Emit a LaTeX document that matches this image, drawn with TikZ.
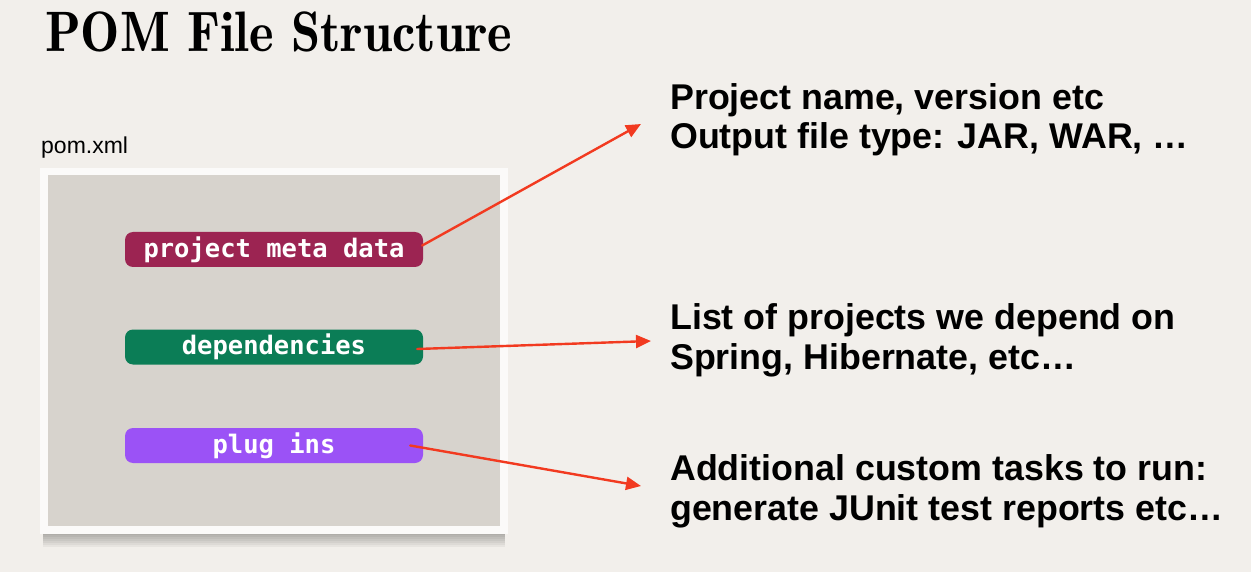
\documentclass[tikz,border=0pt]{standalone}
\usepackage{fontspec}
\newfontfamily\labelfont{Liberation Sans}
\newfontfamily\codefont{DejaVu Sans Mono}
\usetikzlibrary{arrows.meta}

\definecolor{paper}{HTML}{F2EFEB}
\definecolor{sheet}{HTML}{D7D3CD}
\definecolor{frameedge}{HTML}{FBFAF9}
\definecolor{metacol}{HTML}{9C2452}
\definecolor{depcol}{HTML}{0B7D56}
\definecolor{plugcol}{HTML}{9B52F6}
\definecolor{pencil}{HTML}{F23A20}

\tikzset{
  pill/.style={rounded corners=8pt, minimum width=298pt, minimum height=35pt,
    inner sep=0pt, text=white, font=\codefont\bfseries\fontsize{25.5}{25.5}\selectfont},
  note/.style={anchor=base west, inner sep=0pt, text=black,
    font=\labelfont\bfseries\fontsize{35.8}{35.8}\selectfont},
  pointer/.style={draw=pencil, line width=2.4pt, line cap=round,
    -{Triangle[length=15pt,width=13pt]}},
}

\begin{document}
\begin{tikzpicture}[x=1pt,y=-1pt]
  % paper background
  \fill[paper] (0,0) rectangle (1251,572);
  \useasboundingbox (0,0) rectangle (1251,572);

  % title
  \node[anchor=base west, inner sep=0pt] (title) at (45,52)
    {\resizebox{467pt}{\height}{\fontsize{57}{57}\fontseries{b}\selectfont POM File Structure}};

  % file label
  \node[anchor=base west, inner sep=0pt, font=\labelfont\fontsize{23}{23}\selectfont]
    (pomlabel) at (41,153.5) {pom.xml};

  % soft shadow under the framed sheet
  \foreach \d in {1,3,...,13}
    \fill[black, opacity=0.045] (43,185) rectangle (505,534+\d);

  % framed sheet
  \fill[frameedge] (40,168) rectangle (508,534);
  \fill[sheet] (48,175) rectangle (500,526);

  % sections of the POM
  \node[pill, fill=metacol] (meta) at (274,249.5) {project meta data};
  \node[pill, fill=depcol]  (dep)  at (274,347)   {dependencies};
  \node[pill, fill=plugcol] (plug) at (274,445.5) {plug ins};

  % descriptions
  \node[note] (metaA) at (670,110) {Project name, version etc};
  \node[note] (metaB) at (670,149) {Output file type: JAR, WAR, …};
  \node[note] (depA)  at (670,330) {List of projects we depend on};
  \node[note] (depB)  at (670,369) {Spring, Hibernate, etc…};
  \node[note] (plugA) at (670,480) {Additional custom tasks to run:};
  \node[note] (plugB) at (670,520) {generate JUnit test reports etc…};

  % arrow ends
  \coordinate (metaEnd) at (641,124);
  \coordinate (depEnd)  at (651,341);
  \coordinate (plugEnd) at (641,486);

  % pointers
  \draw[pointer] ([xshift=-1pt,yshift=4pt]meta.east) -- (metaEnd);
  \draw[pointer] ([xshift=-6pt,yshift=-2pt]dep.east) -- (depEnd);
  \draw[pointer] ([xshift=-13pt]plug.east) -- (plugEnd);
\end{tikzpicture}
\end{document}
